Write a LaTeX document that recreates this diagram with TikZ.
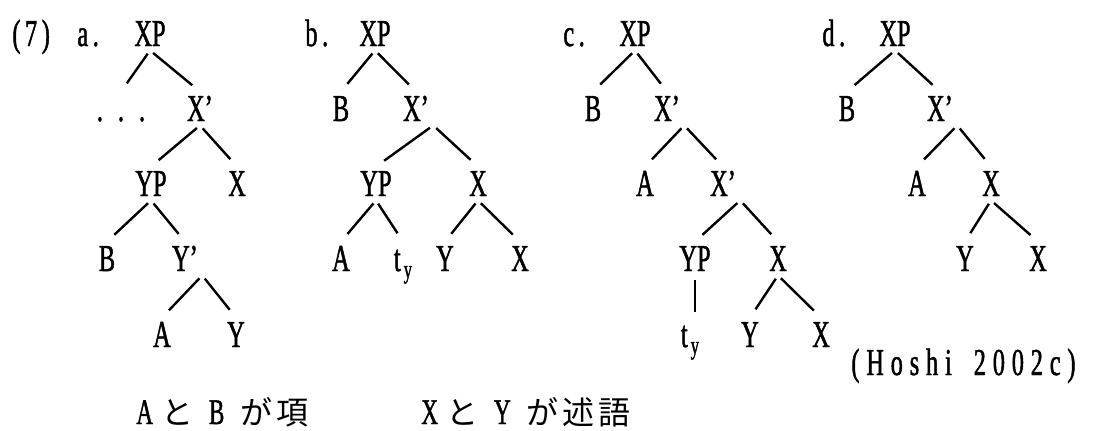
\documentclass[tikz,border=0pt]{standalone}
\usepackage{fontspec}
\setmainfont{Liberation Serif}[FakeStretch=0.64,FakeBold=1.2]
\newfontfamily\trackfont{Liberation Serif}[FakeStretch=0.64,FakeBold=1.2,LetterSpace=12]
\newfontfamily\srcfont{Liberation Serif}[FakeStretch=0.64,FakeBold=1.2,LetterSpace=18]
\newfontfamily\jpfont{Noto Sans CJK JP}
\newcommand{\jtext}[1]{{\jpfont\fontsize{16}{20}\selectfont #1}}
\usepackage{tikz}
\tikzstyle{cat} = [font=\fontsize{19}{22}\selectfont, anchor=base, inner sep=2pt, text height=12.5pt, text depth=0pt]
\tikzstyle{tag} = [font=\trackfont\fontsize{19}{22}\selectfont, anchor=base west, inner sep=0pt]
\tikzstyle{gloss} = [font=\fontsize{18}{20}\selectfont, anchor=base west, inner sep=0pt]
\tikzstyle{branch} = [line width=1.2pt, shorten <=2pt, shorten >=5pt]

\begin{document}
\begin{tikzpicture}[x=0.5pt, y=-0.5pt]
\useasboundingbox (0,0) rectangle (1093,430);

% example number and tree labels
\node[tag] (ex) at (12,46) {(7)};
\node[tag] (la) at (77,46) {a.};
\node[tag] (lb) at (305,46) {b.};
\node[tag] (lc) at (563,46) {c.};
\node[tag] (ld) at (822,46) {d.};

% tree a
\node[cat] (xpA) at (150,46) {XP};
\node[cat] (dotsA) at (121,121) {.\hspace{7.5pt}.\hspace{7.5pt}.};
\node[cat] (xbarA) at (200,121) {X'};
\node[cat] (ypA) at (151,196) {YP};
\node[cat] (xA) at (237,196) {X};
\node[cat] (bA) at (107,271) {B};
\node[cat] (ybarA) at (185,271) {Y'};
\node[cat] (aA) at (162,347) {A};
\node[cat] (yA) at (236,347) {Y};
\draw[branch] (xpA.south) -- (dotsA.north);
\draw[branch] (xpA.south) -- (xbarA.north);
\draw[branch] (xbarA.south) -- (ypA.north);
\draw[branch] (xbarA.south) -- (xA.north);
\draw[branch] (ypA.south) -- (bA.north);
\draw[branch] (ypA.south) -- (ybarA.north);
\draw[branch] (ybarA.south east) -- (aA.north);
\draw[branch] (ybarA.south east) -- (yA.north);

% tree b
\node[cat] (xpB) at (375,46) {XP};
\node[cat] (bB) at (341,121) {B};
\node[cat] (xbarB) at (416,121) {X'};
\node[cat] (ypB) at (376,196) {YP};
\node[cat] (xB) at (478,196) {X};
\node[cat] (aB) at (341,271) {A};
\node[cat] (tyB) at (403,271) {t\hspace{1.5pt}\raisebox{-3.5pt}{\fontsize{13}{13}\selectfont y}};
\node[cat] (yB) at (445,271) {Y};
\node[cat] (xxB) at (520,271) {X};
\draw[branch] (xpB.south) -- (bB.north);
\draw[branch] (xpB.south) -- (xbarB.north);
\draw[branch] (xbarB.south east) -- (ypB.north);
\draw[branch] (xbarB.south east) -- (xB.north);
\draw[branch] (ypB.south) -- (aB.north);
\draw[branch] (ypB.south) -- (tyB.north);
\draw[branch] (xB.south) -- (yB.north);
\draw[branch] (xB.south) -- (xxB.north);

% tree c
\node[cat] (xpC) at (635,46) {XP};
\node[cat] (bC) at (593,121) {B};
\node[cat] (xbarC) at (667,121) {X'};
\node[cat] (aC) at (645,196) {A};
\node[cat] (xbar2C) at (723,196) {X'};
\node[cat] (ypC) at (695,271) {YP};
\node[cat] (xC) at (778,271) {X};
\node[cat] (tyC) at (690,347) {t\hspace{1.5pt}\raisebox{-3.5pt}{\fontsize{13}{13}\selectfont y}};
\node[cat] (yC) at (750,347) {Y};
\node[cat] (xxC) at (821,347) {X};
\draw[branch] (xpC.south) -- (bC.north);
\draw[branch] (xpC.south) -- (xbarC.north);
\draw[branch] (xbarC.south east) -- (aC.north);
\draw[branch] (xbarC.south east) -- (xbar2C.north);
\draw[branch] (xbar2C.south east) -- (ypC.north);
\draw[branch] (xbar2C.south east) -- (xC.north);
\draw[branch, shorten <=2.5pt, shorten >=3pt] (ypC.south) -- (ypC.south |- tyC.north);
\draw[branch] (xC.south) -- (yC.north);
\draw[branch] (xC.south) -- (xxC.north);

% tree d
\node[cat] (xpD) at (895,46) {XP};
\node[cat] (bD) at (847,121) {B};
\node[cat] (xbarD) at (940,121) {X'};
\node[cat] (aD) at (917,196) {A};
\node[cat] (xD) at (991,196) {X};
\node[cat] (yD) at (965,271) {Y};
\node[cat] (xxD) at (1038,271) {X};
\draw[branch] (xpD.south) -- (bD.north);
\draw[branch] (xpD.south) -- (xbarD.north);
\draw[branch] (xbarD.south east) -- (aD.north);
\draw[branch] (xbarD.south east) -- (xD.north);
\draw[branch] (xD.south) -- (yD.north);
\draw[branch] (xD.south) -- (xxD.north);

% source and glosses
\node[tag, font=\srcfont\fontsize{19}{22}\selectfont] (src) at (851,375) {(Hoshi\hspace{11pt}2002c)};
\node[gloss] (args) at (136,424) {A\hspace{4pt}\jtext{と}\hspace{8pt}B\hspace{8pt}\jtext{が}\hspace{2pt}\jtext{項}};
\node[gloss] (preds) at (421,424) {X\hspace{4pt}\jtext{と}\hspace{8pt}Y\hspace{8pt}\jtext{が}\hspace{2pt}\jtext{述}\hspace{2pt}\jtext{語}};
\end{tikzpicture}
\end{document}
